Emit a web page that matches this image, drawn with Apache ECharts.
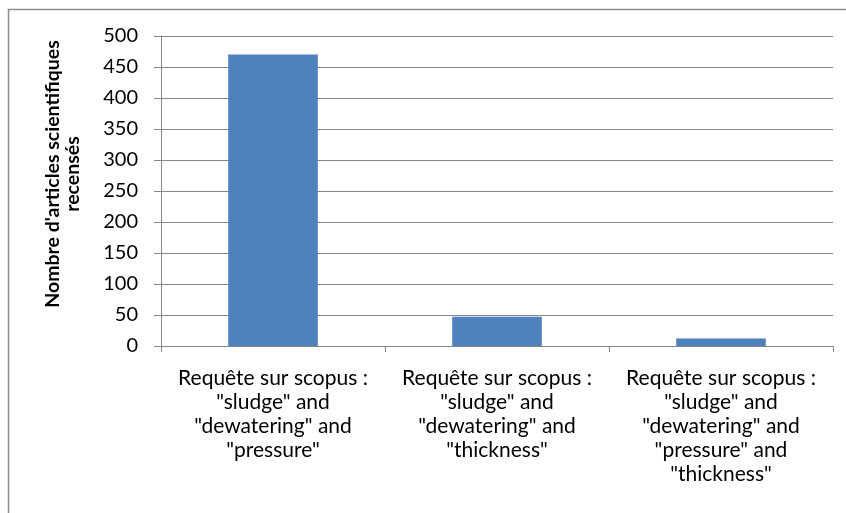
<!DOCTYPE html>
<html>
<head>
<meta charset="utf-8">
<script src="https://cdn.jsdelivr.net/npm/echarts@6/dist/echarts.min.js"></script>
<style>html,body{margin:0;padding:0;background:#fff}#c{width:846px;height:513px}</style>
</head>
<body>
<div id="c"></div>
<script>
const categories = [
  'Requête sur scopus :\n"sludge" and\n"dewatering" and\n"pressure"',
  'Requête sur scopus :\n"sludge" and\n"dewatering" and\n"thickness"',
  'Requête sur scopus :\n"sludge" and\n"dewatering" and\n"pressure" and\n"thickness"'
];
const values = [470, 47, 12];
const yTitle = "Nombre d'articles scientifiques\nrecensés";
const yMin = 0, yMax = 500, yStep = 50;

const FONT = 'Lato';
const chart = echarts.init(document.getElementById('c'), null, {renderer: 'canvas'});
chart.setOption({
  animation: false,
  backgroundColor: '#fff',
  graphic: [{
    type: 'rect', silent: true,
    shape: {x: 8.5, y: 9.5, width: 900, height: 600},
    style: {fill: 'none', stroke: '#8c8c8c', lineWidth: 1.5}
  }],
  grid: {left: 161, top: 36, right: 13, bottom: 167, containLabel: false},
  xAxis: {
    type: 'category',
    data: categories,
    boundaryGap: true,
    axisLine: {lineStyle: {color: '#868686', width: 1}},
    axisTick: {show: true, length: 6, alignWithLabel: false, lineStyle: {color: '#868686'}},
    axisLabel: {interval: 0, margin: 20, color: '#000', fontFamily: FONT, fontSize: 21, lineHeight: 24, align: 'center'}
  },
  yAxis: {
    type: 'value', min: yMin, max: yMax, interval: yStep,
    name: yTitle, nameLocation: 'middle', nameGap: 78, nameRotate: 90,
    nameTextStyle: {color: '#000', fontFamily: FONT, fontSize: 19.5, fontWeight: 'bold', lineHeight: 20, align: 'center', padding: [0, 0, 0, 34]},
    axisLine: {show: true, lineStyle: {color: '#868686', width: 1}},
    axisTick: {show: true, length: 7, lineStyle: {color: '#868686'}},
    splitLine: {show: true, lineStyle: {color: '#868686', width: 1}},
    axisLabel: {margin: 23, color: '#000', fontFamily: FONT, fontSize: 20}
  },
  series: [{
    type: 'bar', data: values, barWidth: '40%',
    itemStyle: {color: '#4f81bd'}
  }]
});
</script>
</body>
</html>
